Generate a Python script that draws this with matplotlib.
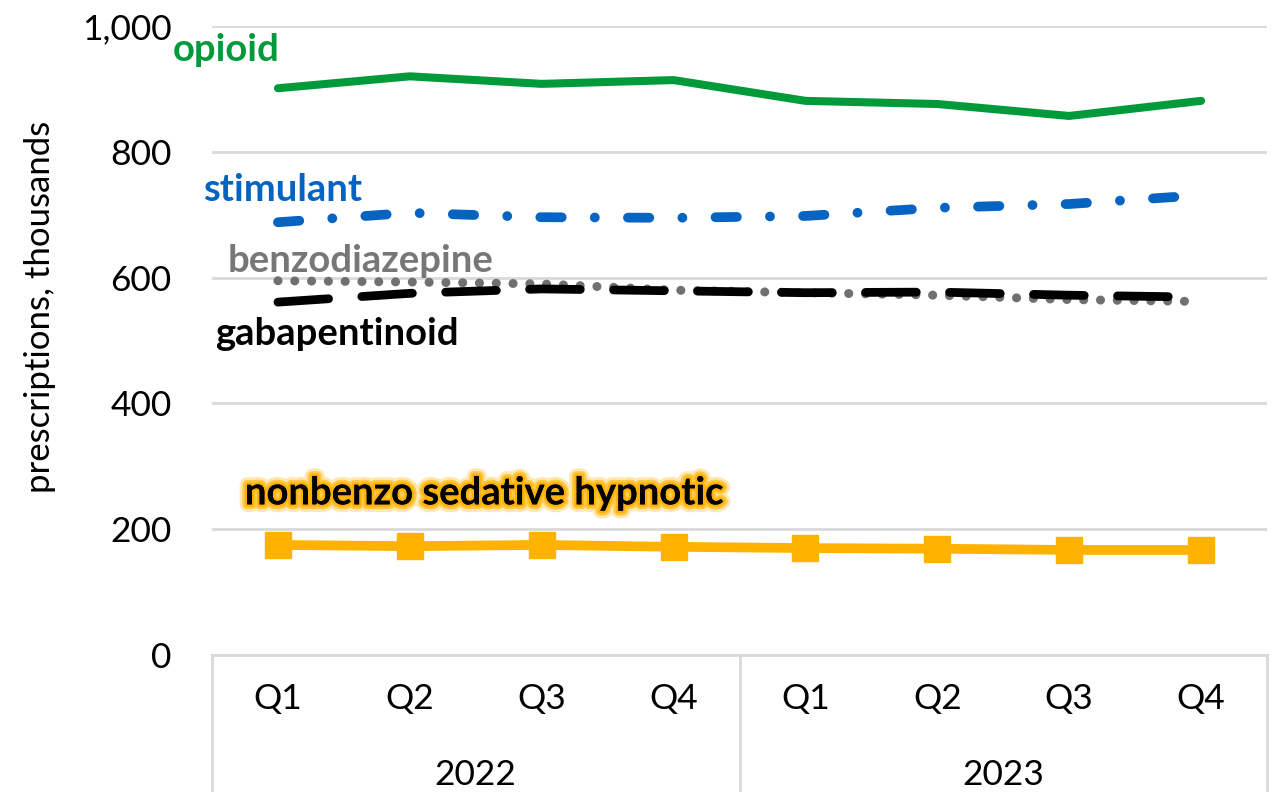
import numpy as np
import matplotlib
matplotlib.use('Agg')
import matplotlib.pyplot as plt
import matplotlib.patheffects as pe
import matplotlib.transforms as mtransforms

quarters = ['Q1', 'Q2', 'Q3', 'Q4', 'Q1', 'Q2', 'Q3', 'Q4']
years = ['2022', '2023']
opioid = [901, 920, 908, 914, 881, 876, 857, 881]
stimulant = [688, 703, 696, 695, 698, 711, 717, 731]
benzodiazepine = [595, 593, 590, 580, 576, 572, 565, 562]
gabapentinoid = [561, 575, 582, 579, 576, 577, 572, 569]
nonbenzo = [175, 173, 175, 172, 170, 169, 167, 167]

plt.rcParams['font.family'] = ['Lato', 'DejaVu Sans']

fig = plt.figure(figsize=(12.76, 7.92), dpi=100)
ax = fig.add_axes([212/1276, 1-655/792, (1267-212)/1276, (655-26)/792])
x = np.arange(len(quarters))

ax.plot(x, benzodiazepine, color='#707070', lw=6.5, dashes=(0.01, 1.85),
        dash_capstyle='round', zorder=3)
ax.plot(x, gabapentinoid, color='black', lw=6.3, dashes=(5.8, 3.8),
        dash_capstyle='round', zorder=4)
ax.plot(x, stimulant, color='#0563C1', lw=7, dashes=(2.2, 3.4, 0.01, 3.4),
        dash_capstyle='round', zorder=4)
ax.plot(x, opioid, color='#009A3A', lw=5.8, solid_capstyle='round', zorder=4)
ax.plot(x, nonbenzo, color='#FFB300', lw=7, marker='s', markersize=19,
        zorder=4)

ax.set_xlim(-0.5, len(quarters) - 0.5)
ax.set_ylim(0, 1000)
ax.set_yticks(range(0, 1001, 200))
ax.set_yticklabels(['0', '200', '400', '600', '800', '1,000'])
ax.set_xticks(x)
ax.set_xticklabels(quarters)
ax.tick_params(length=0, labelsize=25.5)
ax.tick_params(axis='y', pad=29)
ax.tick_params(axis='x', pad=20)
ax.grid(axis='y', color='#d9d9d9', lw=2)
ax.set_axisbelow(True)
for s in ['top', 'right', 'left']:
    ax.spines[s].set_visible(False)
ax.spines['bottom'].set_color('#d9d9d9')
ax.spines['bottom'].set_linewidth(2)

# category table lines below the axis
trans = mtransforms.blended_transform_factory(ax.transData, ax.transAxes)
for xv in [-0.5, 3.5, 7.5]:
    ax.plot([xv, xv], [0, -0.22], color='#d9d9d9', lw=2, transform=trans,
            clip_on=False)
for i, yr in enumerate(years):
    ax.text(1.5 + 4*i, -0.19, yr, transform=trans, ha='center', va='center',
            fontsize=25.5)

fig.text(40/1276, 1-307/792, 'prescriptions, thousands', rotation=90,
         ha='center', va='center', fontsize=25)

fs = 27.5
ax.text(-0.80, 962, 'opioid', color='#009A3A', fontsize=fs,
        fontweight='bold', va='center')
ax.text(-0.57, 740, 'stimulant', color='#0563C1', fontsize=fs,
        fontweight='bold', va='center')
ax.text(-0.38, 627, 'benzodiazepine', color='#777777', fontsize=fs,
        fontweight='bold', va='center')
ax.text(-0.48, 510, 'gabapentinoid', color='black', fontsize=fs,
        fontweight='bold', va='center')
glow = [pe.withStroke(linewidth=11, foreground='#FFB300', alpha=0.3),
        pe.withStroke(linewidth=7, foreground='#FFB300', alpha=0.6),
        pe.withStroke(linewidth=3.5, foreground='#FFB300'),
        pe.Normal()]
ax.text(-0.25, 257, 'nonbenzo sedative hypnotic', color='black', fontsize=fs,
        fontweight='bold', va='center', path_effects=glow)

fig.savefig('out.png', dpi=100)
